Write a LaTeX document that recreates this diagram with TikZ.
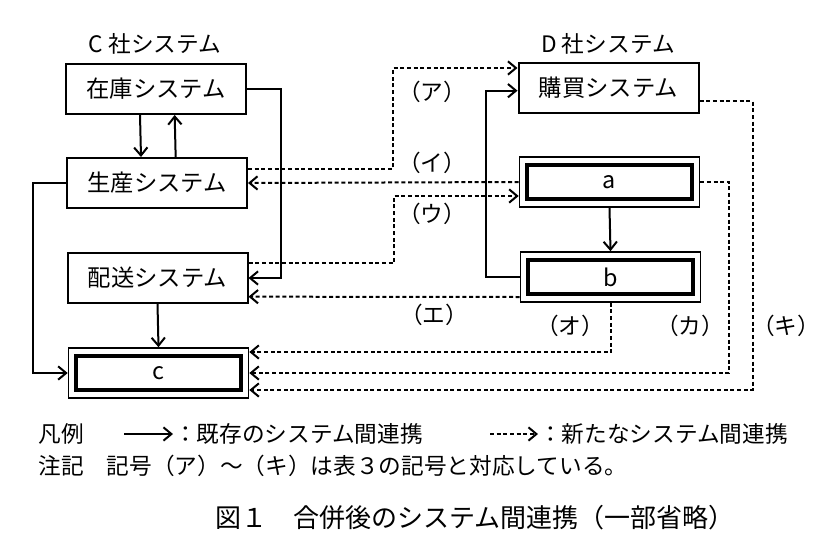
\documentclass[tikz,border=0pt]{standalone}
\usepackage{fontspec}
\setmainfont{Noto Sans CJK JP}
\usetikzlibrary{arrows.meta}
\tikzset{
  sysbox/.style={draw, line width=1.5pt, minimum width=135pt, minimum height=37.5pt, inner sep=0pt, font=\fontsize{17.5}{20}\selectfont},
  old/.style={line width=1.5pt, -{Straight Barb[length=6pt,width=10pt,line width=1.5pt]}},
  new/.style={old, dash pattern=on 3pt off 2pt},
  lbl/.style={font=\fontsize{17}{20}\selectfont}
}
\begin{document}
\begin{tikzpicture}[x=0.75pt,y=-0.75pt]
		\useasboundingbox (0,0) rectangle (832,557);
		% Titles
		\node[lbl] (ctitle) at (155,44) {C 社システム};
		\node[lbl] (dtitle) at (608,44) {D 社システム};

		% Nodes
		\node[sysbox] (zaiko) at (156,89) {在庫システム};
		\node[sysbox] (seisan) at (157,183) {生産システム};
		\node[sysbox] (haiso) at (157.5,278) {配送システム};
		\node[sysbox, line width=1.2pt] (c) at (158.5,373) {c};
		\node[sysbox] (kobai) at (608.5,88) {購買システム};
		\node[sysbox, line width=1.2pt] (a) at (609.5,182) {a};
		\node[sysbox, line width=1.2pt] (b) at (610.5,277) {b};
		\foreach \n in {a,b,c}
			\draw[line width=3.2pt] ([shift={(8,9)}]\n.north west) rectangle ([shift={(-8,-9)}]\n.south east);

		% Existing connections
		\draw[old] ([xshift=-12pt]zaiko.south) -- ([xshift=-12pt]seisan.north);
		\draw[old] ([xshift=14pt]seisan.north) -- ([xshift=14pt]zaiko.south);
		\draw[old] (zaiko.east) -- ++(34,0) |- (haiso.east);
		\draw[old] (seisan.west) -- ++(-33,0) |- (c.west);
		\draw[old] (haiso.south) -- (c.north);
		\draw[old] (a.south) -- (b.north);
		\draw[old] (b.west) -- ++(-34,0) |- ([yshift=-2pt]kobai.west);

		% New connections
		\draw[new] ([yshift=10.5pt]seisan.east) -- ++(145,0) |- ([yshift=15pt]kobai.west);
		\draw[new] (a.west) -- (seisan.east);
		\draw[new] ([yshift=11pt]haiso.east) -- ++(145,0) |- ([yshift=-10.5pt]a.west);
		\draw[new] ([yshift=-15pt]b.west) -- ([yshift=-14pt]haiso.east);
		\draw[new] (b.south) -- ++(0,50) |- ([yshift=15.75pt]c.east);
		\draw[new] (a.east) -- ++(29,0) |- (c.east);
		\draw[new] ([yshift=-10pt]kobai.east) -- ++(53,0) |- ([yshift=-12.75pt]c.east);

		% Labels
		\node[lbl] (la) at (432,92) {（ア）};
		\node[lbl] (li) at (432,163) {（イ）};
		\node[lbl] (lu) at (432,214) {（ウ）};
		\node[lbl] (le) at (434,315) {（エ）};
		\node[lbl] (lo) at (570,326) {（オ）};
		\node[lbl] (lk) at (690,326) {（カ）};
		\node[lbl] (lki) at (786,326) {（キ）};

		% Legend
		\node[lbl, anchor=west] (hanrei) at (34,434) {凡例};
		\coordinate (o1) at (124,434);
		\coordinate (o2) at (173,434);
		\draw[old] (o1) -- (o2);
		\node[lbl, anchor=west, inner sep=0pt] (oldtxt) at (174,434) {：既存のシステム間連携};
		\coordinate (n1) at (490,434);
		\coordinate (n2) at (538,434);
		\draw[new] (n1) -- (n2);
		\node[lbl, anchor=west, inner sep=0pt] (newtxt) at (539,434) {：新たなシステム間連携};
		\node[lbl, anchor=west] (note) at (34,466) {注記　記号（ア）～（キ）は表３の記号と対応している。};
		\node[font=\fontsize{19.5}{23}\selectfont] (caption) at (475,518) {図１　合併後のシステム間連携（一部省略）};
	\end{tikzpicture}
\end{document}
